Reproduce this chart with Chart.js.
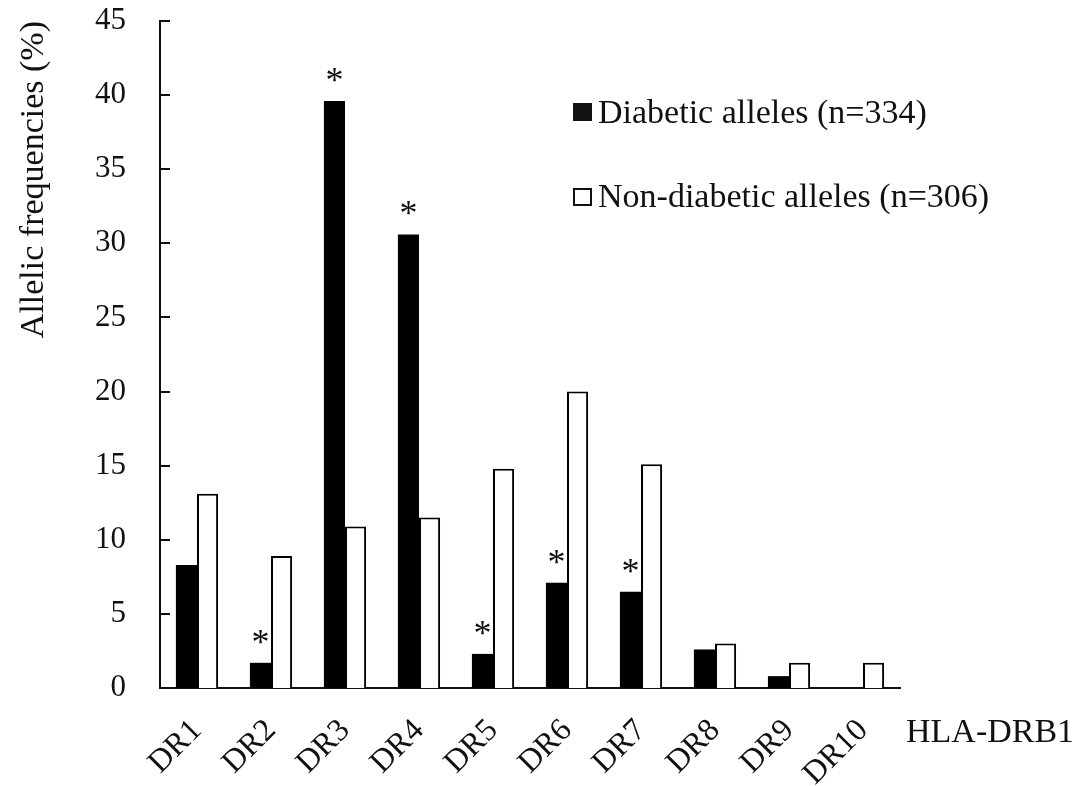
<!DOCTYPE html>
<html>
<head>
<meta charset="utf-8">
<script src="https://cdn.jsdelivr.net/npm/chart.js@4"></script>
<style>
  html, body { margin: 0; padding: 0; background: #fff; }
  #wrap { width: 1090px; height: 786px; }
</style>
</head>
<body>
<div id="wrap"><canvas id="hla-chart"></canvas></div>
<script>
// HLA-DRB1 allele frequencies
const categories = ["DR1", "DR2", "DR3", "DR4", "DR5", "DR6", "DR7", "DR8", "DR9", "DR10"];
const diabetic = [8.3, 1.7, 39.6, 30.6, 2.3, 7.1, 6.5, 2.6, 0.8, 0];
const nonDiabetic = [13.1, 8.9, 10.9, 11.5, 14.8, 20.0, 15.1, 3.0, 1.7, 1.7];
const significant = [false, true, true, true, true, true, true, false, false, false];
const yTicks = [0, 5, 10, 15, 20, 25, 30, 35, 40, 45];

const serif = "'Liberation Serif', 'Times New Roman', serif";

// inner tick marks, asterisks, legend and the axis name on the right
const extras = {
  id: 'extras',
  afterDraw(chart) {
    const ctx = chart.ctx;
    const y = chart.scales.y;
    const x = chart.scales.x;
    ctx.save();
    ctx.strokeStyle = '#111';
    ctx.lineWidth = 2;
    yTicks.forEach(v => {
      const py = Math.round(y.getPixelForValue(v));
      ctx.beginPath();
      ctx.moveTo(x.left, py);
      ctx.lineTo(x.left + 10, py);
      ctx.stroke();
    });

    ctx.fillStyle = '#111';
    ctx.font = '36px ' + serif;
    ctx.textAlign = 'center';
    ctx.textBaseline = 'alphabetic';
    const bars = chart.getDatasetMeta(0).data;
    significant.forEach((s, i) => {
      if (!s) return;
      const b = bars[i];
      ctx.fillText('*', b.x, b.y - 9);
    });

    // legend
    ctx.textAlign = 'left';
    ctx.font = '34px ' + serif;
    ctx.fillRect(573, 103, 19, 18);
    ctx.fillText('Diabetic alleles (n=334)', 598, 123);
    ctx.fillStyle = '#fff';
    ctx.fillRect(574, 189, 17, 16);
    ctx.strokeRect(574, 189, 17, 16);
    ctx.fillStyle = '#111';
    ctx.fillText('Non-diabetic alleles (n=306)', 598, 207);

    ctx.font = '34px ' + serif;
    ctx.fillText('HLA-DRB1', 906, 742);
    ctx.restore();
  }
};

new Chart(document.getElementById('hla-chart'), {
  type: 'bar',
  data: {
    labels: categories,
    datasets: [
      {
        label: 'Diabetic alleles (n=334)',
        data: diabetic,
        backgroundColor: '#000',
        borderColor: '#000',
        borderWidth: 0,
        barPercentage: 1,
        categoryPercentage: 0.57
      },
      {
        label: 'Non-diabetic alleles (n=306)',
        data: nonDiabetic,
        backgroundColor: '#fff',
        borderColor: '#000',
        borderWidth: 2,
        barPercentage: 1,
        categoryPercentage: 0.57
      }
    ]
  },
  options: {
    responsive: true,
    maintainAspectRatio: false,
    animation: false,
    layout: { padding: { top: 21, right: 190, left: 0, bottom: 0 } },
    plugins: {
      legend: { display: false },
      tooltip: { enabled: false }
    },
    scales: {
      x: {
        grid: { display: false },
        border: { display: true, color: '#111', width: 2 },
        ticks: {
          color: '#111',
          font: { family: serif, size: 32 },
          maxRotation: 45,
          minRotation: 45,
          padding: 16
        },
        afterFit(s) { s.height = 98; }
      },
      y: {
        min: 0,
        max: 45,
        grid: { display: false },
        border: { display: true, color: '#111', width: 2 },
        ticks: {
          stepSize: 5,
          color: '#111',
          font: { family: serif, size: 31 },
          padding: 26
        },
        title: {
          display: true,
          text: 'Allelic frequencies (%)',
          align: 'end',
          color: '#111',
          font: { family: serif, size: 34 },
          padding: { top: 14, bottom: 0 }
        },
        afterFit(s) {
          s.width = 160;
          s.paddingTop = 0;
          s.paddingBottom = 0;
        }
      }
    }
  },
  plugins: [extras]
});
</script>
</body>
</html>
